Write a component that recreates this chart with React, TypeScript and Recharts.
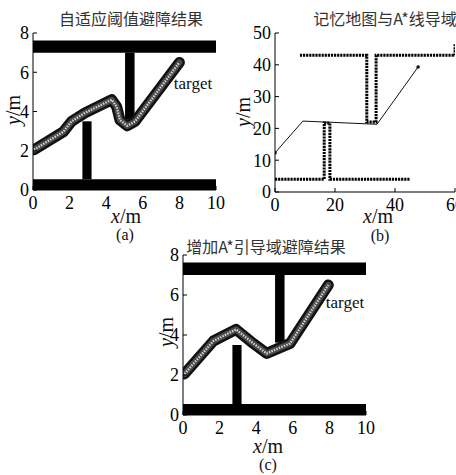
import React from 'react';
import { ComposedChart, Line, Scatter, XAxis, YAxis, ReferenceArea } from 'recharts';

const serif = '"Liberation Serif", "Times New Roman", serif';
const cjk = '"Noto Sans CJK SC", sans-serif';

// (a) / (c) map: 10 m x 8 m
const mapTicksX = [0, 2, 4, 6, 8, 10];
const mapTicksY = [0, 2, 4, 6, 8];
const obstacles = [
  { x1: 0, x2: 10, y1: 7.0, y2: 7.62 },
  { x1: 0, x2: 10, y1: 0, y2: 0.55 },
  { x1: 5.03, x2: 5.55, y1: 3.62, y2: 7.0 },
  { x1: 2.7, x2: 3.2, y1: 0.55, y2: 3.5 },
];

const pathA = [
  { x: 0.05, y: 2.05 },
  { x: 1.66, y: 2.97 },
  { x: 2.11, y: 3.5 },
  { x: 2.84, y: 3.93 },
  { x: 4.3, y: 4.6 },
  { x: 4.57, y: 4.25 },
  { x: 4.75, y: 3.57 },
  { x: 5.15, y: 3.27 },
  { x: 5.57, y: 3.49 },
  { x: 8.0, y: 6.5 },
];

const pathC = [
  { x: 0.08, y: 2.05 },
  { x: 1.66, y: 3.7 },
  { x: 2.9, y: 4.28 },
  { x: 3.84, y: 3.58 },
  { x: 4.57, y: 3.08 },
  { x: 5.85, y: 3.58 },
  { x: 7.94, y: 6.5 },
];

// (b) memory map, 60 x 50
const memTicksX = [0, 20, 40, 60];
const memTicksY = [0, 10, 20, 30, 40, 50];
const upperWall = [
  { x: 8.3, y: 43 },
  { x: 30.6, y: 43 },
  { x: 30.6, y: 22 },
  { x: 33.7, y: 22 },
  { x: 33.7, y: 43 },
  { x: 60, y: 43 },
  { x: 60, y: 46.5 },
];
const lowerWall = [
  { x: 0, y: 4 },
  { x: 16.4, y: 4 },
  { x: 16.4, y: 21.7 },
  { x: 18.3, y: 21.7 },
  { x: 18.3, y: 4 },
  { x: 45, y: 4 },
];
const guideLine = [
  { x: 0, y: 12.3 },
  { x: 9.3, y: 22.3 },
  { x: 34, y: 21.3 },
  { x: 47.7, y: 39.3 },
];
const guideEnds = [guideLine[0], guideLine[guideLine.length - 1]];

const tickStyle = { fill: '#000', fontSize: 18, fontFamily: 'Liberation Serif' };

function Txt({ x, y, size = 16, family = serif, rotate = 0, color = '#111', children }: any) {
  return (
    <div
      style={{
        position: 'absolute',
        left: x,
        top: y,
        transform: `translate(-50%, -50%) rotate(${rotate}deg)`,
        fontFamily: family,
        fontSize: size,
        color,
        whiteSpace: 'nowrap',
        lineHeight: 1,
      }}
    >
      {children}
    </div>
  );
}

function AxisName({ x, y, axis, rotate = 0 }: any) {
  return (
    <Txt x={x} y={y} size={20} rotate={rotate}>
      <i>{axis}</i>/m
    </Txt>
  );
}

function Axes({ ticksX, ticksY, domX, domY, yWidth, xHeight }: any) {
  return [
    <XAxis
      key="xb"
      xAxisId="b"
      type="number"
      dataKey="x"
      domain={domX}
      ticks={ticksX}
      allowDataOverflow
      height={xHeight}
      tickSize={-4}
      tickMargin={10}
      tick={tickStyle}
      fontFamily="Liberation Serif"
      stroke="#000"
    />,
    <XAxis
      key="xt"
      xAxisId="t"
      orientation="top"
      type="number"
      dataKey="x"
      domain={domX}
      ticks={ticksX}
      allowDataOverflow
      height={0}
      tickSize={-4}
      tick={false}
      stroke="#000"
    />,
    <YAxis
      key="yl"
      yAxisId="l"
      type="number"
      domain={domY}
      ticks={ticksY}
      allowDataOverflow
      width={yWidth}
      tickSize={-4}
      tickMargin={8}
      tick={tickStyle}
      fontFamily="Liberation Serif"
      stroke="#000"
    />,
    <YAxis
      key="yr"
      yAxisId="r"
      orientation="right"
      type="number"
      domain={domY}
      ticks={ticksY}
      allowDataOverflow
      width={0}
      tickSize={-4}
      tick={false}
      stroke="#000"
    />,
  ];
}

function MapChart({ path, width, yWidth, xHeight, top, right }: any) {
  return (
    <ComposedChart width={width} height={240} margin={{ top, right, left: 0, bottom: 0 }}>
      {Axes({ ticksX: mapTicksX, ticksY: mapTicksY, domX: [0, 10], domY: [0, 8], yWidth, xHeight })}
      {obstacles.map((o, i) => (
        <ReferenceArea
          key={i}
          xAxisId="b"
          yAxisId="l"
          x1={o.x1}
          x2={o.x2}
          y1={o.y1}
          y2={o.y2}
          fill="#000"
          fillOpacity={1}
          stroke="none"
        />
      ))}
      <Line xAxisId="b" yAxisId="l" data={path} dataKey="y" type="linear" stroke="#111" strokeWidth={11} strokeLinejoin="round" strokeLinecap="round" dot={false} isAnimationActive={false} />
      <Line xAxisId="b" yAxisId="l" data={path} dataKey="y" type="linear" stroke="#4a4a4a" strokeWidth={6} strokeLinejoin="round" strokeLinecap="round" dot={false} isAnimationActive={false} />
      <Line xAxisId="b" yAxisId="l" data={path} dataKey="y" type="linear" stroke="#d8d8d8" strokeWidth={2.2} strokeDasharray="1.5 1.2" strokeLinejoin="round" dot={false} isAnimationActive={false} />
    </ComposedChart>
  );
}

function MemoryChart() {
  return (
    <ComposedChart width={240} height={240} margin={{ top: 33, right: 15, left: 0, bottom: 0 }}>
      {Axes({ ticksX: memTicksX, ticksY: memTicksY, domX: [0, 60], domY: [0, 50], yWidth: 45, xHeight: 48 })}
      {[upperWall, lowerWall].map((w, i) => (
        <Line key={i} xAxisId="b" yAxisId="l" data={w} dataKey="y" type="linear" stroke="#000" strokeWidth={3} strokeDasharray="2.2 0.9" dot={false} isAnimationActive={false} />
      ))}
      <Line xAxisId="b" yAxisId="l" data={guideLine} dataKey="y" type="linear" stroke="#111" strokeWidth={1} dot={false} isAnimationActive={false} />
      <Scatter xAxisId="b" yAxisId="l" data={guideEnds} dataKey="y" fill="#111" shape={(p: any) => <circle cx={p.cx} cy={p.cy} r={1.8} fill="#111" />} isAnimationActive={false} />
    </ComposedChart>
  );
}

export default function App() {
  return (
    <div style={{ position: 'absolute', left: 0, top: 0, width: 456, height: 475, overflow: 'hidden', background: '#fff', fontFamily: serif }}>
      <div style={{ position: 'absolute', left: 0, top: 0 }}>
        <MapChart path={pathA} width={230} yWidth={33} xHeight={50} top={33} right={14} />
      </div>
      <div style={{ position: 'absolute', left: 230, top: 0 }}>
        <MemoryChart />
      </div>
      <div style={{ position: 'absolute', left: 140, top: 235 }}>
        <MapChart path={pathC} width={240} yWidth={43} xHeight={60} top={20} right={14} />
      </div>

      <Txt x={131} y={18} family={cjk} color="#333">自适应阈值避障结果</Txt>
      <Txt x={385} y={18} family={cjk} color="#333">记忆地图与A*线导域</Txt>
      <Txt x={266} y={246} family={cjk} color="#333">增加A*引导域避障结果</Txt>

      <Txt x={193} y={83} size={17}>target</Txt>
      <Txt x={345} y={302} size={17}>target</Txt>

      <AxisName x={13} y={110} axis="y" rotate={-90} />
      <AxisName x={126} y={216} axis="x" />
      <AxisName x={243} y={112} axis="y" rotate={-90} />
      <AxisName x={378} y={216} axis="x" />
      <AxisName x={166} y={332} axis="y" rotate={-90} />
      <AxisName x={268} y={446} axis="x" />

      <Txt x={125} y={235}>(a)</Txt>
      <Txt x={380} y={236}>(b)</Txt>
      <Txt x={268} y={465}>(c)</Txt>
    </div>
  );
}
